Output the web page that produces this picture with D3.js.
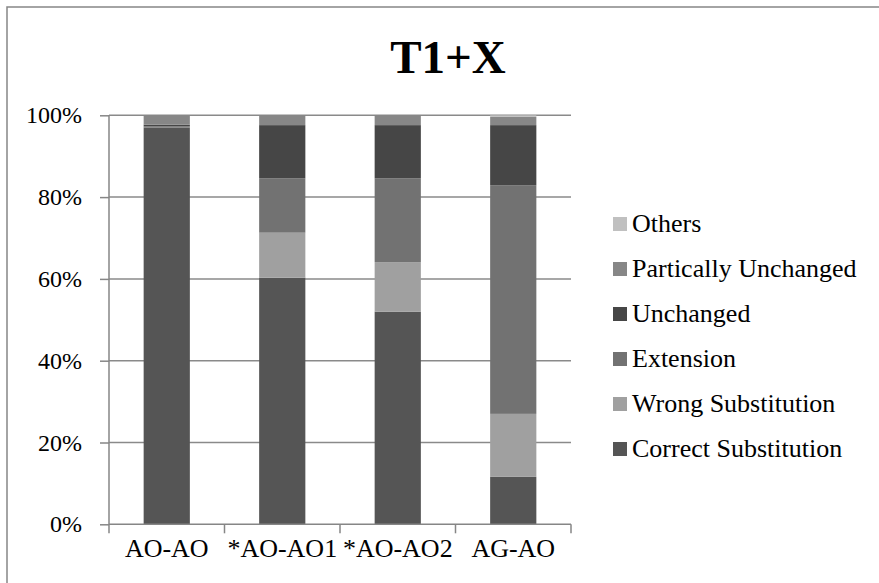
<!DOCTYPE html>
<html>
<head>
<meta charset="utf-8">
<script src="https://cdn.jsdelivr.net/npm/d3@7"></script>
<style>
  body { margin: 0; background: #fff; }
  svg { display: block; }
</style>
</head>
<body>
<div id="chart"></div>
<script>
  var categories = ['AO-AO', '*AO-AO1', '*AO-AO2', 'AG-AO'];

  // stack order, bottom to top
  var seriesNames = ['Correct Substitution', 'Wrong Substitution', 'Extension',
                     'Unchanged', 'Partically Unchanged', 'Others'];
  var seriesColors = ['#555555', '#a0a0a0', '#727272', '#464646', '#878787', '#c0c0c0'];

  // percentages per category, same order as seriesNames
  var correctSubstitution = [97.0, 60.3, 52.0, 11.6];
  var wrongSubstitution   = [0.0, 11.0, 12.1, 15.4];
  var extension           = [0.3, 13.3, 20.5, 55.9];
  var unchanged           = [0.4, 13.0, 13.0, 14.7];
  var particallyUnchanged = [2.3, 2.4, 2.4, 2.0];
  var others              = [0.0, 0.0, 0.0, 0.4];

  var yTicks = [0, 20, 40, 60, 80, 100];

  var seriesValues = [correctSubstitution, wrongSubstitution, extension,
                      unchanged, particallyUnchanged, others];

  var serif = 'Liberation Serif';

  var width = 879, height = 583,
      plot = { left: 109, right: 571, top: 115.3, bottom: 524.3 };

  var svg = d3.select('#chart')
    .append('svg')
    .attr('width', width)
    .attr('height', height)
    .attr('font-family', serif);

  // outer chart border
  svg.append('rect')
    .attr('x', 7).attr('y', 7)
    .attr('width', width + 20).attr('height', height + 20)
    .attr('fill', '#fff')
    .attr('stroke', '#868686')
    .attr('stroke-width', 1.5);

  var x = d3.scaleBand()
    .domain(categories)
    .range([plot.left, plot.right])
    .padding(0);

  var y = d3.scaleLinear()
    .domain([0, 100])
    .range([plot.bottom, plot.top]);

  // gridlines
  svg.append('g')
    .selectAll('line')
    .data(yTicks.filter(function(d) { return d > 0; }))
    .enter().append('line')
    .attr('x1', plot.left).attr('x2', plot.right)
    .attr('y1', function(d) { return y(d); })
    .attr('y2', function(d) { return y(d); })
    .attr('stroke', '#8a8a8a')
    .attr('stroke-width', 1.5);

  // stacked bars
  var rows = categories.map(function(c, i) {
    var r = { category: c };
    seriesNames.forEach(function(s, j) { r[s] = seriesValues[j][i]; });
    return r;
  });

  var stack = d3.stack().keys(seriesNames)(rows);
  var barWidth = x.bandwidth() * 0.4;

  svg.append('g')
    .selectAll('g')
    .data(stack)
    .enter().append('g')
    .attr('fill', function(d, i) { return seriesColors[i]; })
    .selectAll('rect')
    .data(function(d) { return d; })
    .enter().append('rect')
    .attr('x', function(d) { return x(d.data.category) + (x.bandwidth() - barWidth) / 2; })
    .attr('width', barWidth)
    .attr('y', function(d) { return y(d[1]); })
    .attr('height', function(d) { return y(d[0]) - y(d[1]); });

  // y axis
  var yAxis = svg.append('g')
    .attr('transform', 'translate(' + plot.left + ',0)')
    .call(d3.axisLeft(y).tickValues(yTicks).tickSize(9).tickPadding(18)
      .tickFormat(function(d) { return d + '%'; }));

  // x axis
  var xAxis = svg.append('g')
    .attr('transform', 'translate(0,' + plot.bottom + ')')
    .call(d3.axisBottom(x).tickSize(0).tickPadding(14));

  // x ticks sit on band boundaries
  xAxis.append('g')
    .selectAll('line')
    .data(categories.concat(['end']))
    .enter().append('line')
    .attr('x1', function(d, i) { return plot.left + i * x.step(); })
    .attr('x2', function(d, i) { return plot.left + i * x.step(); })
    .attr('y1', 0).attr('y2', 9)
    .attr('stroke', '#868686')
    .attr('stroke-width', 1.5);

  [yAxis, xAxis].forEach(function(a) {
    a.attr('font-family', serif);
    a.select('.domain').attr('stroke', '#868686').attr('stroke-width', 1.5);
    a.selectAll('.tick line').attr('stroke', '#868686').attr('stroke-width', 1.5);
    a.selectAll('.tick text').attr('fill', '#000');
  });
  yAxis.attr('font-size', 24);
  xAxis.attr('font-size', 26);
  yAxis.select('.domain').attr('d', 'M0,' + plot.top + 'V' + plot.bottom);
  xAxis.select('.domain').attr('d', 'M' + plot.left + ',0H' + plot.right);

  // title
  svg.append('text')
    .attr('x', 448)
    .attr('y', 73)
    .attr('text-anchor', 'middle')
    .attr('font-size', 47)
    .attr('font-weight', 'bold')
    .text('T1+X');

  // legend, top to bottom in reverse stack order
  var legend = svg.append('g')
    .attr('font-family', serif)
    .attr('font-size', 26)
    .selectAll('g')
    .data(seriesNames.slice().reverse())
    .enter().append('g')
    .attr('transform', function(d, i) { return 'translate(613,' + (217 + i * 45) + ')'; });

  legend.append('rect')
    .attr('width', 14).attr('height', 14)
    .attr('fill', function(d) { return seriesColors[seriesNames.indexOf(d)]; });

  legend.append('text')
    .attr('x', 19)
    .attr('y', 15)
    .attr('fill', '#000')
    .text(function(d) { return d; });
</script>
</body>
</html>
